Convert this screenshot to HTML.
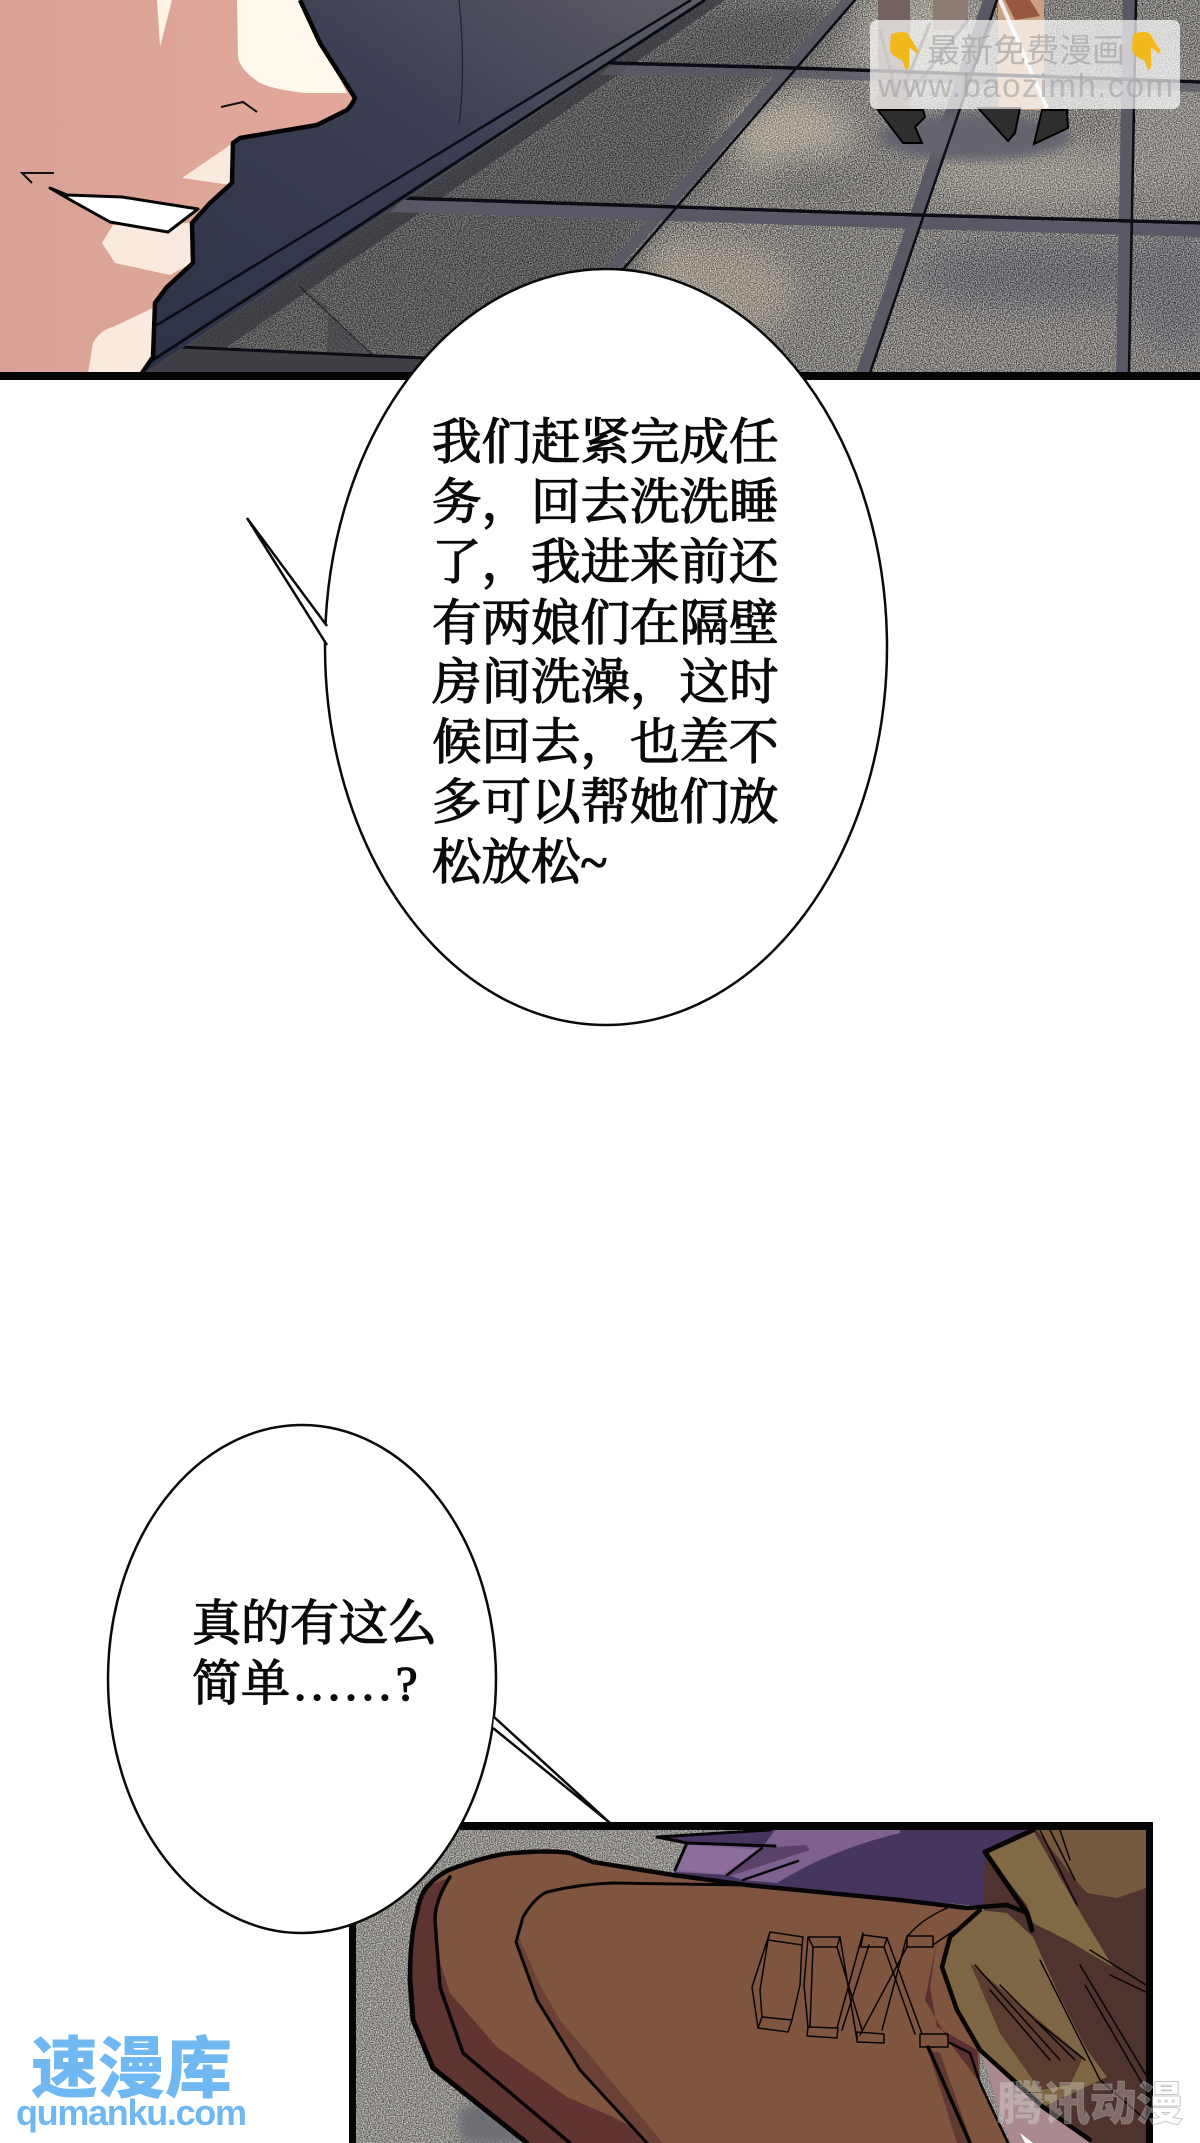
<!DOCTYPE html>
<html lang="zh"><head><meta charset="utf-8"><title>漫画</title>
<style>html,body{margin:0;padding:0;background:#fff}svg{display:block}
.t{font-family:"Liberation Serif","Noto Serif CJK SC",serif;font-weight:400;font-size:49.5px;fill:#0a0a0a;stroke:#0a0a0a;stroke-width:1.3px}
.s{font-family:"Liberation Sans","Noto Sans CJK SC",sans-serif}
</style></head><body>
<svg xmlns="http://www.w3.org/2000/svg" width="1200" height="2143" viewBox="0 0 1200 2143">
<defs>
<filter id="n" x="0" y="0" width="1" height="1" color-interpolation-filters="sRGB"><feTurbulence type="fractalNoise" baseFrequency=".85" numOctaves="2" seed="4"/><feColorMatrix values="2.4 0 0 0 -.7 2.4 0 0 0 -.7 2.4 0 0 0 -.7 0 0 0 0 .55"/></filter>
<filter id="b20" color-interpolation-filters="sRGB"><feGaussianBlur stdDeviation="16"/></filter>
<filter id="b6" color-interpolation-filters="sRGB"><feGaussianBlur stdDeviation="5"/></filter>
<clipPath id="floor"><path d="M705,0H1200V373H145Z"/></clipPath>
<clipPath id="p1"><rect width="1200" height="373"/></clipPath>
<clipPath id="p2"><rect x="356" y="1830" width="790" height="313"/></clipPath>
<linearGradient id="suit" x1="0" y1="1" x2="1" y2="0"><stop offset="0" stop-color="#2d3246"/><stop offset=".6" stop-color="#3c3e53"/><stop offset="1" stop-color="#5e5d64"/></linearGradient>
<linearGradient id="skin" x1="0" x2="1" y1="0" y2="0"><stop offset="0" stop-color="#d9a196"/><stop offset="1" stop-color="#e5a99c"/></linearGradient>
</defs>

<!-- top panel -->
<g clip-path="url(#p1)">
<rect width="400" height="373" fill="url(#skin)"/>
<path d="M300,0H705L145,373L153,357L155,303L167,287L193,263L192,223L210,203L232,183L233,143L240,138L317,125L347,110L355,98L320,43Z" fill="url(#suit)"/>
<!-- floor -->
<g clip-path="url(#floor)">
<rect width="1200" height="373" fill="#807e7b"/>
<g filter="url(#b20)">
<path d="M705,0H855L700,180L640,240L600,373H100Z" fill="#5a5a5b"/>
<ellipse cx="790" cy="135" rx="62" ry="40" fill="#aaa498"/>
<ellipse cx="720" cy="290" rx="75" ry="48" fill="#9c958a"/>
<ellipse cx="675" cy="262" rx="30" ry="22" fill="#a0998e"/>
<ellipse cx="925" cy="40" rx="70" ry="60" fill="#a09c94"/>
<ellipse cx="1030" cy="175" rx="110" ry="28" fill="#9a968f"/>
<ellipse cx="1040" cy="275" rx="125" ry="30" fill="#6a6a71"/>
<ellipse cx="1000" cy="345" rx="130" ry="25" fill="#85827f"/>
<ellipse cx="1170" cy="130" rx="50" ry="70" fill="#8d8b88"/>
<ellipse cx="815" cy="178" rx="50" ry="20" fill="#747371"/>
<ellipse cx="1175" cy="290" rx="40" ry="60" fill="#6d6d74"/>
</g>
<rect width="1200" height="373" filter="url(#n)" style="mix-blend-mode:overlay"/>
<!-- dark strips -->
<path d="M705,0L145,373H190L725,0Z" fill="#37383f" opacity=".75"/>
<path d="M184,347L425,358L420,373H145Z" fill="#3e3f45"/>
<path d="M300,287L373,355L327,352L328,307Z" fill="#3f4045" opacity=".55"/>
<g fill="#595864">
<path d="M403,200L677,209L918,217L1200,225V237L918,229L677,221L390,212Z"/>
<path d="M612,65L796,70L1200,84V92L796,78L600,75Z" opacity=".75"/>
<path d="M855,0L620,267H606L841,0Z" opacity=".9"/>
<path d="M997,0L870,373H856L983,0Z"/>
<path d="M1136,0L1129,373H1116L1123,0Z"/>
</g>
<!-- shoe shadow -->
<ellipse cx="975" cy="137" rx="96" ry="23" fill="#64646f" filter="url(#b6)"/>
<!-- legs -->
<rect x="878" y="0" width="32" height="115" fill="#75615f"/>
<rect x="933" y="0" width="35" height="30" fill="#8d7b73"/>
<rect x="998" y="0" width="46" height="110" fill="#c9a183"/>
<path d="M1005,0H1030L1040,16L1015,20Z" fill="#95573e"/>
<path d="M880,30L897,97M930,23L903,90M968,20L905,100M993,20L962,95" stroke="#444" stroke-width="3" fill="none"/>
<!-- shoes -->
<path d="M878,110H923L925,117L915,127L922,143H903Z" fill="#2f2d2e" stroke="#000" stroke-width="2"/>
<path d="M978,108H1020L1015,133L1008,141Z" fill="#2f2d2e" stroke="#000" stroke-width="2"/>
<path d="M1042,110H1067L1068,128L1034,144Z" fill="#2f2d2e" stroke="#000" stroke-width="2"/>
<path d="M1000,0L1047,108" stroke="#f2f2f2" stroke-width="4" fill="none"/>
<g stroke="#0c0c14" fill="none" stroke-linecap="round">
<path d="M612,63L796,68L1200,82" stroke-width="3.5"/>
<path d="M403,198L677,207L918,215L1200,223" stroke-width="3.5"/>
<path d="M180,347L425,358" stroke-width="3"/>
<path d="M855,0L620,273" stroke-width="2.5"/>
<path d="M997,0L870,373" stroke-width="2.5"/>
<path d="M1136,0L1129,373" stroke-width="2.5"/>
<path d="M300,287L373,355" stroke-width="1" opacity=".7"/>
</g>
</g>
<!-- suit lines -->
<path d="M459,0Q466,70 459,125" stroke="#20232f" stroke-width="1.2" fill="none"/>
<path d="M691,0L157,325" stroke="#0a0c14" stroke-width="2.5" fill="none"/>
<path d="M705,0L150,362" stroke="#0a0c14" stroke-width="3" fill="none"/>
<!-- face highlights -->
<path d="M237,0H300L347,93H307Q275,90 260,83Q240,70 238,57Z" fill="#fef9ec"/>
<path d="M157,0H172L160,47Z" fill="#fdf4e6"/>
<path d="M233,143L231,185L182,178Z" fill="#f9e9df"/>
<path d="M113,225L190,223L192,263L170,275L115,263L102,243Z" fill="#f9e9df"/>
<path d="M155,307L153,357L142,373H88L93,343Q100,330 113,327Z" fill="#f9e9df"/>
<!-- face outline -->
<path d="M300,0L320,43L355,98Q352,105 347,110L317,125L240,138L233,143L232,183L210,203L192,223L193,263L167,287L155,303L153,357L142,373" fill="none" stroke="#050505" stroke-width="4.5" stroke-linejoin="round"/>
<path d="M50,188L67,198L110,222L168,232L198,209L122,197L67,195Z" fill="#fff" stroke="#060606" stroke-width="3" stroke-linejoin="round"/>
<path d="M54,173H22L32,183" stroke="#111" stroke-width="2" fill="none"/>
<path d="M221,107L243,102L257,112" stroke="#111" stroke-width="2" fill="none"/>
</g>
<rect y="372" width="1200" height="8" fill="#050505"/>
<!-- watermark -->
<rect x="870" y="20" width="310" height="89" rx="7" fill="#fff" fill-opacity=".7"/>
<text x="927" y="62" class="s" font-size="33" fill="#a8a8a8" fill-opacity=".75" textLength="198">最新免费漫画</text>
<text x="878" y="97" class="s" font-size="33" fill="#a0a0a0" fill-opacity=".6" textLength="295">www.baozimh.com</text>
<g fill="#f2b91d">
<path d="M891,34Q905,30 908,34L918,50Q920,53 916,53L909,47L909,68L906,70L902,60Q890,56 890,48Z"/>
<path d="M1133,34Q1147,30 1150,34L1160,50Q1162,53 1158,53L1151,47L1151,68L1148,70L1144,60Q1132,56 1132,48Z"/>
</g>

<!-- bubble 1 -->
<ellipse cx="606" cy="647" rx="281" ry="378" fill="#fff" stroke="#0a0a0a" stroke-width="2.5"/>
<path d="M327,626L247,518L327,645" fill="#fff" stroke="#0a0a0a" stroke-width="2.5"/>
<g class="t">
<text x="432" y="459">我们赶紧完成任</text>
<text x="432" y="519">务，回去洗洗睡</text>
<text x="432" y="579">了，我进来前还</text>
<text x="432" y="640">有两娘们在隔壁</text>
<text x="432" y="699">房间洗澡，这时</text>
<text x="432" y="759">候回去，也差不</text>
<text x="432" y="819">多可以帮她们放</text>
<text x="432" y="879">松放松~</text>
</g>

<!-- bottom panel -->
<g clip-path="url(#p2)">
<rect x="350" y="1825" width="810" height="320" fill="#8f8d89"/>
<rect x="350" y="1825" width="810" height="320" filter="url(#n)" style="mix-blend-mode:overlay"/>
<path d="M458,2113L480,2100L530,2143H462Z" fill="#6d6e74" filter="url(#b6)"/>
<!-- purple -->
<path d="M657,1837L770,1830H1040V1905H967L747,1885L673,1875L687,1843Z" fill="#46355f"/>
<path d="M675,1872L687,1843L762,1848L775,1830H900V1833Q830,1850 777,1883L743,1880L727,1875Z" fill="#7f6190"/>
<path d="M687,1845L760,1850L722,1874L678,1870Z" fill="#8d6d9c"/>
<path d="M760,1848L806,1845L810,1850L727,1877Z" fill="#5b4268"/>
<!-- right dark -->
<path d="M985,1852L1033,1830H1150V2143H1010L980,2050Z" fill="#4f332e"/>
<path d="M1037,1830H1146V1888L1117,1898L1087,1893L1073,1877Z" fill="#75593f"/>
<path d="M985,1852L1033,1830L1077,1907L1113,1967L1067,1940L1033,1923L1027,1905Z" fill="#806a45"/>
<path d="M980,2050L1043,2107L1090,2143H1010Z" fill="#a98a8e"/>
<!-- shoe -->
<path id="sh" d="M410,1980Q410,1935 417,1913Q420,1895 427,1887Q440,1872 457,1867Q490,1855 513,1853Q550,1850 570,1853L593,1862L673,1875L747,1885L900,1900L980,1910L950,1937L942,1967L957,2010L980,2050L980,2083L1010,2143H527L433,2068L413,2020Z" fill="#7f5540"/>
<path d="M410,1980Q410,1935 417,1913Q420,1895 427,1887L450,1877Q435,1900 435,1920L440,1987L463,2053L570,2143H527L433,2068L413,2020Z" fill="#5e3430"/>
<path d="M436,1950L450,1993L497,2047L567,2097L613,2117L663,2143H570L463,2053L440,1987Z" fill="#603531"/>
<path d="M518,1935L540,1985L560,2020L663,2143H647L580,2070L537,2000L516,1942Z" fill="#6a4134"/>
<path d="M937,1940L930,1987L937,2027L977,2050L980,2083L950,2043L925,2000Z" fill="#5a3030"/>
<path d="M928,2050L940,2053L972,2143H957Z" fill="#5e3a30"/>
<!-- tan blob -->
<path d="M980,1910L1007,1913L1033,1937L1060,1997L1087,2050L1107,2077L1043,2107L980,2050L957,2010L942,1967L950,1937Z" fill="#7d6644"/>
<path d="M970,1963L1083,2057L1070,2085L1040,2090L1000,2033Z" fill="#5a3c30"/>
<path d="M1020,2133L1033,2143H1025Z" fill="#fff"/>
<!-- outlines -->
<g fill="none" stroke="#070506" stroke-linejoin="round" stroke-linecap="round">
<path d="M410,1980Q410,1935 417,1913Q420,1895 427,1887Q440,1872 457,1867Q490,1855 513,1853Q550,1850 570,1853L593,1862L673,1875L747,1885L900,1900L967,1908L1007,1905L1027,1913" stroke-width="4.5"/>
<path d="M410,1980L413,2020L433,2068L527,2143" stroke-width="5"/>
<path d="M450,1877Q435,1900 435,1920L440,1987L463,2053L570,2143" stroke-width="3.5"/>
<path d="M647,2143L580,2070L537,2000L516,1942L523,1917Q535,1897 547,1892Q580,1884 613,1883L747,1885" stroke-width="3"/>
<path d="M985,1852L1033,1830M985,1852L1027,1913L1032,1930" stroke-width="5"/>
<path d="M980,1910L950,1937L942,1967L957,2010L980,2050L1043,2107L1090,2140" stroke-width="4.5"/>
<path d="M657,1837L770,1830M657,1837L687,1843L775,1846M687,1843L675,1870" stroke-width="3"/>
<path d="M762,1848L727,1875M798,1861L743,1880" stroke-width="2.5"/>
<path d="M928,2047L970,2143" stroke-width="3.5"/>
<path d="M950,2043L970,2053L980,2083L1008,2143" stroke-width="2.5"/>
<g stroke-width="1.5">
<path d="M770,1932L803,1937L802,1945L768,1940ZM770,1932L752,1987L758,2028M768,1940L760,1990L762,2017M802,1945L800,1985L792,2020"/>
<path d="M762,2017L792,2020L788,2032L758,2028Z"/>
<path d="M808,1937L840,1937L837,1947L813,1947ZM813,1947L810,2027M808,1937L804,1985L808,2027"/>
<path d="M808,2027L838,2028L837,2038L807,2036Z"/>
<path d="M840,1937L857,2040M837,1947L862,2030M863,1933L837,2028M869,1945L842,2030"/>
<path d="M863,1935L887,1938L884,1947L861,1947ZM857,2032L884,2034L884,2043L857,2042Z"/>
<path d="M887,1938L922,2034M884,1947L915,2034M907,1947L860,2035M907,1936L882,2030"/>
<path d="M907,1936L933,1936L933,1947L907,1947ZM920,2034L948,2034L948,2047L920,2047Z"/>
<path d="M947,1908Q920,1920 907,1937M933,1945L955,1930"/>
</g>
<path d="M1040,1830L1077,1905M1050,1830L1075,1880M1060,1830L1070,1860" stroke-width="1.5"/>
<path d="M1090,1950L1146,1985M1110,1975L1146,1992M1040,1960L1100,2080L1146,2120M1080,1965L1146,2075M1085,1985L1146,2090" stroke-width="1.5"/>
<path d="M975,1965L1060,2060M1000,1985L1075,2060M1035,2020L1085,2060M990,1990L1050,2060" stroke-width="1.5"/>
</g>
</g>
<!-- panel frame -->
<rect x="460" y="1822" width="692" height="8" fill="#050505"/>
<rect x="1146" y="1822" width="7" height="321" fill="#050505"/>
<rect x="349" y="1900" width="7" height="243" fill="#050505"/>

<!-- bubble 2 -->
<ellipse cx="302" cy="1679" rx="194" ry="254" fill="#fff" stroke="#0a0a0a" stroke-width="2.5"/>
<path d="M494,1717L610,1823L493,1728" fill="#fff" stroke="#0a0a0a" stroke-width="2.5"/>
<g class="t" style="font-size:49px">
<text x="192" y="1640">真的有这么</text>
<text x="192" y="1700">简单</text>
<text x="294" y="1700" style="letter-spacing:4.7px">......?</text>
</g>

<!-- logos -->
<text x="31" y="2092" class="s" font-size="67" font-weight="900" fill="#70b8f2">速漫库</text>
<text x="16" y="2125" class="s" font-size="36" font-weight="700" fill="#70b8f2" textLength="231">qumanku.com</text>
<text x="997" y="2120" class="s" font-size="46" font-weight="900" fill="#fff" fill-opacity=".28" stroke="#9a9a9a" stroke-opacity=".55" stroke-width="1" textLength="186" lengthAdjust="spacingAndGlyphs">腾讯动漫</text>
</svg>
</body></html>
